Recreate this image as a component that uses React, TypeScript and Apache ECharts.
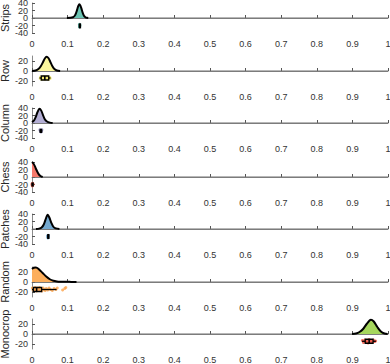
import React, { useEffect, useRef } from "react";
import * as echarts from "echarts";

const panelNames = ["Strips", "Row", "Column", "Chess", "Patches", "Random", "Monocrop"];
const fillColors = ["#6cc4b3", "#fbf69c", "#b3aed4", "#f57a6c", "#74a9d0", "#fcae5c", "#a6d75e"];
const dotColors = ["#5fb8a6", "#f2e96a", "#9d98c6", "#f0624f", "#5e98c4", "#fca34a", "#ef4b3a"];
const yMins = [-40, -30, -40, -40, -40, -30, -30];
const yMaxs = [40, 30, 40, 40, 40, 30, 30];
const yTickStep = 20;
const wideMajorLabels = [-40, 0, 40];
const wideMinorLabels = [-20, 20];

// density curves [x, density-height]
const stripsDensity = [[0.098, 0], [0.108, 0.5], [0.115, 2], [0.12, 6], [0.124, 14], [0.127, 23], [0.13, 32], [0.133, 37], [0.136, 33], [0.139, 25], [0.142, 15], [0.146, 6], [0.15, 2], [0.154, 0.5], [0.158, 0]];
const rowDensity = [[0.0, 0], [0.01, 1], [0.018, 4], [0.025, 10], [0.031, 18], [0.036, 25], [0.041, 28.5], [0.046, 26], [0.051, 19], [0.057, 10], [0.063, 4], [0.07, 1], [0.079, 0]];
const columnDensity = [[0.0, 2], [0.005, 6], [0.01, 15], [0.015, 28], [0.021, 38], [0.026, 33], [0.031, 21], [0.036, 10], [0.042, 4], [0.05, 1], [0.058, 0]];
const chessDensity = [[0.0, 40], [0.004, 36], [0.008, 29], [0.012, 20], [0.016, 12], [0.02, 6], [0.025, 2], [0.03, 0]];
const patchesDensity = [[0.011, 0], [0.02, 1], [0.027, 4], [0.033, 12], [0.038, 25], [0.044, 38], [0.049, 30], [0.054, 17], [0.06, 6], [0.067, 1.5], [0.077, 0]];
const randomDensity = [[0.0, 26], [0.005, 28.5], [0.01, 29], [0.015, 28], [0.02, 25], [0.03, 18], [0.04, 11], [0.05, 5.5], [0.06, 2.5], [0.07, 1.2], [0.08, 0.6], [0.09, 0.4], [0.1, 0.3], [0.11, 0.2], [0.125, 0]];
const monocropDensity = [[0.899, 0], [0.91, 1], [0.92, 4], [0.93, 10], [0.94, 20], [0.952, 28.5], [0.96, 25], [0.97, 14], [0.98, 5], [0.99, 1], [0.999, 0]];
const densities = [stripsDensity, rowDensity, columnDensity, chessDensity, patchesDensity, randomDensity, monocropDensity];

// jittered raw points [x, y]
const stripsPoints = [[0.133, -18], [0.1338, -21], [0.1342, -19], [0.1335, -23], [0.134, -17], [0.1332, -22], [0.1345, -20], [0.1337, -24], [0.1341, -22], [0.1334, -19]];
const rowPoints = [[0.024, -12], [0.029, -15], [0.033, -11], [0.036, -17], [0.04, -13], [0.044, -16], [0.048, -12], [0.051, -15], [0.027, -17], [0.038, -14], [0.042, -11], [0.031, -13], [0.046, -17], [0.035, -12], [0.05, -13], [0.023, -15]];
const columnPoints = [[0.022, -18], [0.024, -22], [0.025, -19], [0.026, -23], [0.027, -20], [0.023, -21], [0.028, -18], [0.025, -24]];
const chessPoints = [[0.0, -18], [0.001, -22], [0.002, -19], [0.001, -24], [0.003, -20], [0.0, -21], [0.002, -17]];
const patchesPoints = [[0.0445, -18], [0.045, -22], [0.0455, -19], [0.0448, -24], [0.0452, -17], [0.0446, -21]];
const randomPoints = [[0.001, -12], [0.003, -16], [0.005, -13], [0.007, -17], [0.009, -11], [0.011, -15], [0.013, -18], [0.015, -12], [0.017, -14], [0.019, -17], [0.021, -11], [0.023, -16], [0.025, -13], [0.028, -18], [0.031, -12], [0.034, -15], [0.037, -17], [0.04, -13], [0.044, -16], [0.048, -12], [0.052, -15], [0.057, -17], [0.062, -13], [0.067, -15], [0.071, -12], [0.086, -16], [0.092, -13], [0.095, -11]];
const monocropPoints = [[0.928, -13], [0.931, -17], [0.935, -12], [0.938, -16], [0.941, -14], [0.944, -18], [0.947, -11], [0.95, -15], [0.953, -13], [0.956, -17], [0.959, -12], [0.962, -15], [0.965, -14]];
const points = [stripsPoints, rowPoints, columnPoints, chessPoints, patchesPoints, randomPoints, monocropPoints];

// box stats: [yCenter, whiskerLow, q1, median, q3, whiskerHigh, halfHeight]
const boxStats = [
  [-21, 0.1326, 0.1333, 0.1338, 0.1344, 0.135, 5],
  [-14, 0.021, 0.026, 0.036, 0.047, 0.052, 4],
  [-21, 0.021, 0.023, 0.025, 0.027, 0.029, 4],
  [-20, 0.0, 0.0005, 0.001, 0.002, 0.003, 4],
  [-20, 0.0442, 0.0446, 0.045, 0.0454, 0.0458, 5],
  [-15, 0.0, 0.004, 0.013, 0.027, 0.069, 4],
  [-14.5, 0.927, 0.936, 0.947, 0.958, 0.966, 4],
];

const xTickLabels = ["0", "0.1", "0.2", "0.3", "0.4", "0.5", "0.6", "0.7", "0.8", "0.9", "1"];

const gridTops = [3, 56, 108, 162, 214, 267, 319];
const FONT = "Liberation Sans, Arial, Helvetica, sans-serif";

export default function App() {
  const ref = useRef<HTMLDivElement>(null);
  useEffect(() => {
    if (!ref.current) return;
    const chart = echarts.init(ref.current, undefined, { renderer: "svg" });
    const grids: any[] = [];
    const xAxes: any[] = [];
    const yAxes: any[] = [];
    const series: any[] = [];
    panelNames.forEach((name, i) => {
      const wide = yMaxs[i] === 40;
      grids.push({ left: 32, width: 356, top: gridTops[i], height: 30, containLabel: false, outerBoundsMode: "none" });
      xAxes.push({
        gridIndex: i,
        type: "value",
        min: 0,
        max: 1,
        interval: 0.1,
        axisLine: { lineStyle: { color: "#8a8a8a", width: 1 } },
        axisTick: { inside: true, length: 3, lineStyle: { color: "#555" } },
        splitLine: { show: false },
        axisLabel: {
          fontSize: 9,
          fontFamily: FONT,
          color: "#333",
          margin: 6,
          hideOverlap: false,
          formatter: (v: number) => xTickLabels[Math.round(v * 10)],
        },
      });
      const labelBase: any = {
        fontSize: 9,
        fontFamily: FONT,
        color: "#333",
        margin: 4,
        hideOverlap: false,
      };
      const yIndex = yAxes.length;
      yAxes.push({
        gridIndex: i,
        type: "value",
        position: "left",
        min: yMins[i],
        max: yMaxs[i],
        interval: wide ? yTickStep : undefined,
        splitNumber: wide ? undefined : 3,
        name,
        nameLocation: "middle",
        nameRotate: 90,
        nameGap: 22,
        nameMoveOverlap: false,
        nameTextStyle: { fontSize: 11, fontFamily: FONT, color: "#262626" },
        axisLine: { show: true, onZero: false, lineStyle: { color: "#8a8a8a", width: 1 } },
        axisTick: { show: true, inside: true, length: 3, lineStyle: { color: "#555" } },
        axisLabel: {
          ...labelBase,
          showMinLabel: wide,
          showMaxLabel: wide,
          formatter: (v: number) =>
            wide ? (wideMajorLabels.includes(v) ? String(v) : "") : v % yTickStep === 0 ? String(v) : "",
        },
        splitLine: { show: false },
      });
      if (wide) {
        yAxes.push({
          gridIndex: i,
          type: "value",
          position: "left",
          offset: 0,
          min: yMins[i],
          max: yMaxs[i],
          interval: yTickStep,
          axisLine: { show: false },
          axisTick: { show: false },
          splitLine: { show: false },
          axisLabel: {
            ...labelBase,
            showMinLabel: false,
            showMaxLabel: false,
            formatter: (v: number) => (wideMinorLabels.includes(v) ? String(v) : ""),
          },
        });
      }
      series.push({
        type: "line",
        xAxisIndex: i,
        yAxisIndex: yIndex,
        data: [[0, 0], [1, 0]],
        showSymbol: false,
        silent: true,
        lineStyle: { color: "#6e6e6e", width: 1 },
        z: 1,
      });
      series.push({
        type: "line",
        xAxisIndex: i,
        yAxisIndex: yIndex,
        data: densities[i],
        smooth: 0.3,
        showSymbol: false,
        lineStyle: { color: "#000", width: 2 },
        areaStyle: { color: fillColors[i], opacity: 1, origin: 0 },
        z: 3,
      });
      series.push({
        type: "scatter",
        xAxisIndex: i,
        yAxisIndex: yIndex,
        data: points[i],
        symbolSize: 3,
        itemStyle: { color: dotColors[i], opacity: 0.8 },
        z: 4,
      });
      series.push({
        type: "custom",
        xAxisIndex: i,
        yAxisIndex: yIndex,
        data: [boxStats[i]],
        z: 5,
        renderItem: (params: any, api: any) => {
          const yc = api.value(0);
          const wl = api.value(1);
          const q1 = api.value(2);
          const md = api.value(3);
          const q3 = api.value(4);
          const wh = api.value(5);
          const hh = api.value(6);
          const pTop = api.coord([q1, yc + hh]);
          const pBot = api.coord([q3, yc - hh]);
          const pWl = api.coord([wl, yc]);
          const pWh = api.coord([wh, yc]);
          const pQ1 = api.coord([q1, yc]);
          const pQ3 = api.coord([q3, yc]);
          const pMt = api.coord([md, yc + hh]);
          const pMb = api.coord([md, yc - hh]);
          const st = { stroke: "#000", lineWidth: 1.3, fill: "none" };
          return {
            type: "group",
            children: [
              { type: "line", shape: { x1: pWl[0], y1: pWl[1], x2: pQ1[0], y2: pQ1[1] }, style: st },
              { type: "line", shape: { x1: pQ3[0], y1: pQ3[1], x2: pWh[0], y2: pWh[1] }, style: st },
              {
                type: "rect",
                shape: {
                  x: pTop[0],
                  y: pTop[1],
                  width: Math.max(pBot[0] - pTop[0], 1),
                  height: pBot[1] - pTop[1],
                },
                style: st,
              },
              { type: "line", shape: { x1: pMt[0], y1: pMt[1], x2: pMb[0], y2: pMb[1] }, style: { stroke: "#000", lineWidth: 1.6 } },
            ],
          };
        },
      });
    });
    chart.setOption({
      animation: false,
      backgroundColor: "#fff",
      grid: grids,
      xAxis: xAxes,
      yAxis: yAxes,
      series,
    });
    return () => chart.dispose();
  }, []);
  return (
    <div
      ref={ref}
      style={{ position: "fixed", left: 0, top: 0, width: 390, height: 364, background: "#fff" }}
    />
  );
}
